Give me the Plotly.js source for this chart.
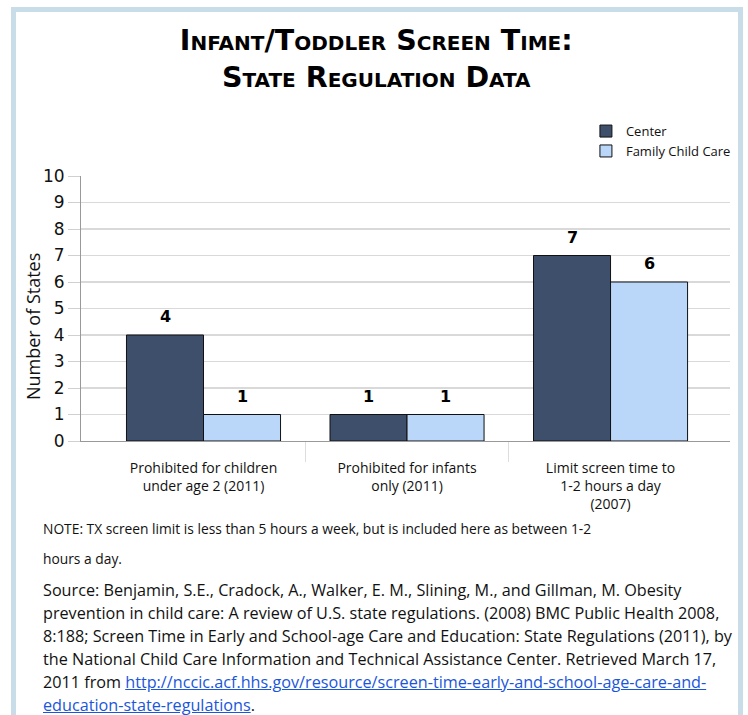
<!DOCTYPE html>
<html>
<head>
<meta charset="utf-8">
<script src="https://cdn.plot.ly/plotly-3.0.1.min.js"></script>
<style>
  html, body { margin:0; padding:0; background:#fff; width:748px; height:715px; overflow:hidden; }
  #frame { position:absolute; left:11px; top:7px; width:722px; height:760px;
           border:5px solid #c9dde9; border-bottom:none; }
  #chart { position:absolute; left:0; top:0; width:748px; height:715px; }
  #notes { position:absolute; left:43px; top:514px; font-family:"Comic Sans MS","Open Sans",sans-serif;
           color:#111; white-space:nowrap; }
  #notes .note { line-height:30px; margin:0 0 5px 0; font-size:13.8px; }
  #notes .src { line-height:22.9px; margin:0; font-size:16.2px; }
  #notes a { color:#1a56db; text-decoration:underline; }
</style>
</head>
<body>
<div id="frame"></div>
<div id="chart"></div>
<div id="notes">
  <p class="note">NOTE: TX screen limit is less than 5 hours a week, but is included here as between 1-2<br>hours a day.</p>
  <p class="src">Source: Benjamin, S.E., Cradock, A., Walker, E. M., Slining, M., and Gillman, M. Obesity<br>prevention in child care: A review of U.S. state regulations. (2008) BMC Public Health 2008,<br>8:188; Screen Time in Early and School-age Care and Education: State Regulations (2011), by<br>the National Child Care Information and Technical Assistance Center. Retrieved March 17,<br>2011 from <a href="http://nccic.acf.hhs.gov/resource/screen-time-early-and-school-age-care-and-education-state-regulations">http://nccic.acf.hhs.gov/resource/screen-time-early-and-school-age-care-and-<br>education-state-regulations</a>.</p>
</div>
<script>
// ---- data ----
const categories = [
  "Prohibited for children<br>under age 2 (2011)",
  "Prohibited for infants<br>only (2011)",
  "Limit screen time to<br>1-2 hours a day<br>(2007)"
];
const seriesNames = ["Center", "Family Child Care"];
const centerValues = [4, 1, 7];
const familyValues = [1, 1, 6];
const yTickValues = [0,1,2,3,4,5,6,7,8,9,10];

// ---- styles ----
const comic = '"Comic Sans MS","Open Sans",sans-serif';
const titleFont = '"Comic Sans MS","DejaVu Sans",sans-serif';
const numFont = '"DejaVu Sans",Verdana,sans-serif';
const colors = ["#3e4f6b", "#bad6f8"];
const bargap = 0.243;
const xRange = [-0.602, 2.587];

const seriesValues = [centerValues, familyValues];
const traces = seriesValues.map((vals, i) => ({
  type: "bar",
  name: seriesNames[i],
  x: categories,
  y: vals,
  marker: { color: colors[i], line: { color: "#111", width: 1 } },
  hoverinfo: "none"
}));
// empty helper trace to carry the separator axis
traces.push({ type: "scatter", x: [], y: [], xaxis: "x2", yaxis: "y", showlegend: false, hoverinfo: "none" });

// value labels above each bar
const half = (1 - bargap) / 4;
const annotations = [];
seriesValues.forEach((vals, i) => {
  vals.forEach((v, j) => {
    annotations.push({
      xref: "x", yref: "y", x: j + (i === 0 ? -half : half), y: v,
      text: "<b>" + v + "</b>", showarrow: false, yanchor: "bottom", yshift: 7,
      font: { family: numFont, size: 16, color: "#000" }
    });
  });
});
annotations.push({
  xref: "paper", yref: "paper", x: 0, y: 0.43, xanchor: "center", yanchor: "middle",
  xshift: -48, textangle: -90, showarrow: false, text: "Number of States",
  font: { family: comic, size: 18, color: "#111" }
});

const layout = {
  width: 748, height: 715,
  paper_bgcolor: "rgba(0,0,0,0)", plot_bgcolor: "#fff",
  margin: { l: 81, r: 18, t: 176, b: 274, autoexpand: false },
  barmode: "group", bargap: bargap, bargroupgap: 0,
  showlegend: true,
  legend: { x: 0.778, xanchor: "left", y: 1.226, yanchor: "top",
            font: { family: comic, size: 13, color: "#111" }, bgcolor: "rgba(0,0,0,0)",
            tracegroupgap: 0, itemwidth: 30 },
  title: {
    text: "Infant/Toddler Screen Time:<br>State Regulation Data",
    x: 0.503, xanchor: "center", yref: "container", y: 1 - 50/715, yanchor: "middle",
    font: { family: titleFont, size: 28.5, weight: "bold", variant: "small-caps", color: "#000" }
  },
  xaxis: {
    type: "category", range: xRange, fixedrange: true,
    showgrid: false, zeroline: false, showline: true, linecolor: "#999", linewidth: 1,
    ticks: "outside", ticklen: 14, tickcolor: "rgba(0,0,0,0)",
    tickfont: { family: comic, size: 14, color: "#111" }
  },
  xaxis2: {
    overlaying: "x", anchor: "y", type: "linear", range: xRange, fixedrange: true,
    showgrid: false, zeroline: false, showline: false, showticklabels: false,
    tickmode: "array", tickvals: [0.5, 1.5], ticks: "outside", ticklen: 20, tickcolor: "#ddd", tickwidth: 1
  },
  yaxis: {
    range: [0, 10], fixedrange: true, tickmode: "array", tickvals: yTickValues,
    showgrid: true, gridcolor: "#d9d9d9", gridwidth: 1.3, zeroline: false,
    showline: true, linecolor: "#999", linewidth: 1,
    ticks: "outside", ticklen: 12, tickcolor: "#d0d0d0",
    tickfont: { family: numFont, size: 17, color: "#111" }
  },
  annotations: annotations
};

Plotly.newPlot("chart", traces, layout, { displayModeBar: false, staticPlot: true });
</script>
</body>
</html>
